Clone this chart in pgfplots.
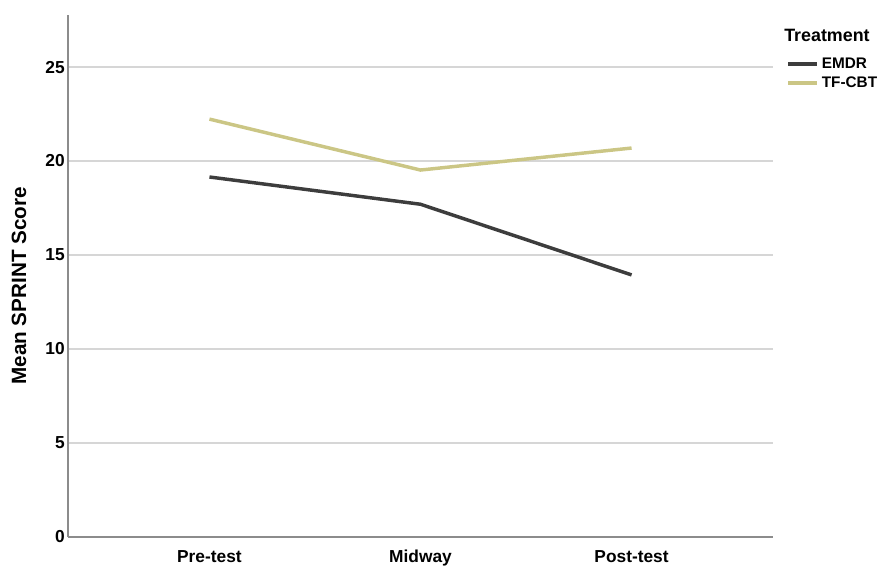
\documentclass[border=0pt]{standalone}
\usepackage{pgfplots}
\pgfplotsset{compat=1.18}
\usepackage{fontspec}
\setmainfont{Liberation Sans}
\definecolor{emdr}{HTML}{3D3D3D}
\definecolor{tfcbt}{HTML}{CBC685}
\definecolor{gridc}{HTML}{D6D6D6}
\definecolor{axisc}{HTML}{8C8C8C}
\begin{document}
\begin{tikzpicture}
  \begin{axis}[
      scale only axis,
      width=528.75pt,
      height=391.5pt,
      xmin=0.33, xmax=3.67,
      ymin=0, ymax=27.77,
      xtick={1,2,3},
      xticklabels={Pre-test, Midway, Post-test},
      ytick={0,5,...,25},
      axis x line*=bottom,
      axis y line*=left,
      axis line style={axisc, line width=1.2pt, -},
      ymajorgrids,
      grid style={gridc, line width=1pt},
      major tick length=0pt,
      /pgf/number format/assume math mode=true,
      tick label style={font=\fontsize{13}{15}\selectfont\bfseries},
      xticklabel style={yshift=-6pt, text height=9.5pt, text depth=2.5pt},
      yticklabel style={xshift=1pt},
      ylabel={Mean SPRINT Score},
      ylabel style={font=\fontsize{15.5}{17}\selectfont\bfseries,
        at={(rel axis cs:-0.0695,0.481)}, anchor=center},
      legend style={at={(1.0184,0.923)}, anchor=north west, draw=none,
        fill=none, font=\fontsize{11.5}{13}\selectfont\bfseries,
        row sep=0.5pt, inner sep=0pt},
      legend cell align=left,
      legend image post style={xscale=1.27, line width=3pt},
      clip=false,
    ]
    % EMDR
    \addplot[emdr, line width=2.6pt] coordinates {
      (1, 19.15) (2, 17.70) (3, 13.94)
    };
    \addlegendentry{EMDR}
    % TF-CBT
    \addplot[tfcbt, line width=2.6pt] coordinates {
      (1, 22.23) (2, 19.52) (3, 20.69)
    };
    \addlegendentry{TF-CBT}
    \node[anchor=west, font=\fontsize{13.4}{15}\selectfont\bfseries, inner sep=0pt]
      at (rel axis cs:1.0156,0.96) {Treatment};
    % page extent
    \path (rel axis cs:-0.0965,-0.0517) (rel axis cs:1.1589,1.0287);
  \end{axis}
\end{tikzpicture}
\end{document}
